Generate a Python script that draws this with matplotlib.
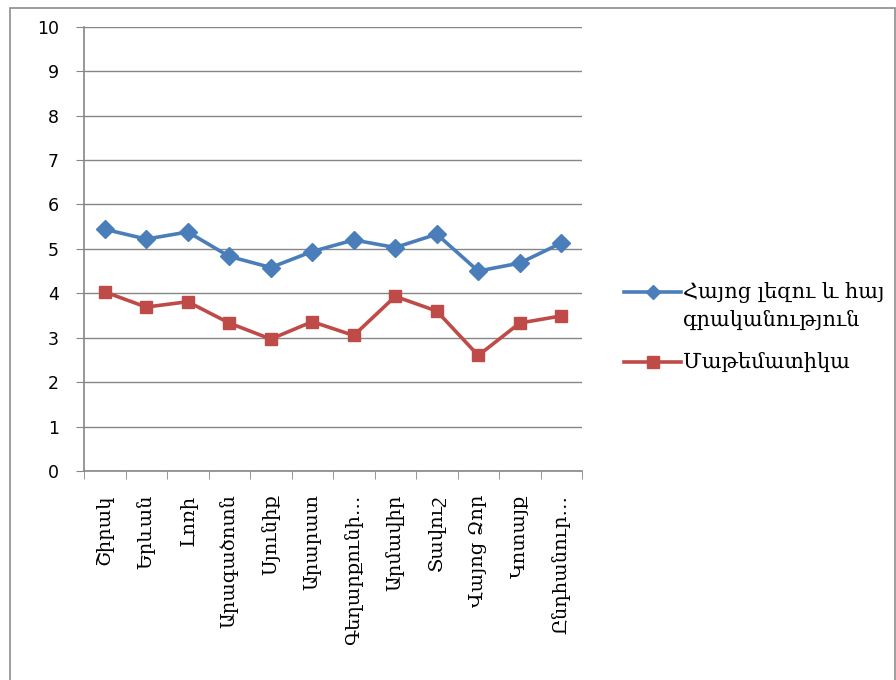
import matplotlib.pyplot as plt
import matplotlib.patches as patches
from matplotlib.lines import Line2D
import numpy as np

regions = ["Շիրակ", "Երևան", "Լոռի", "Արագածոտն", "Սյունիք", "Արարատ",
           "Գեղարքունի…", "Արմավիր", "Տավուշ", "Վայոց Ձոր", "Կոտայք", "Ընդհանուր…"]
armenian = [5.44, 5.22, 5.38, 4.83, 4.58, 4.94, 5.20, 5.03, 5.33, 4.50, 4.68, 5.13]
maths = [4.03, 3.69, 3.81, 3.33, 2.97, 3.36, 3.05, 3.93, 3.60, 2.60, 3.33, 3.49]
series_names = ["Հայոց լեզու և հայ\nգրականություն", "Մաթեմատիկա"]

arm_font = ['DejaVu Serif', 'DejaVu Sans']
blue = '#4a7ebb'
red = '#be4b48'
grid_col = '#868686'

W, H = 896, 680
fig = plt.figure(figsize=(W/100, H/100), dpi=100)
# outer chart border
fig.patches.append(patches.Rectangle((10/W, -0.01), 885/W, 1 - 8/H + 0.01,
                                     transform=fig.transFigure, fill=False,
                                     edgecolor='#8c8c8c', linewidth=1.2))
ax = fig.add_axes([84/W, 1 - 471/H, 498/W, 444.3/H])

x = np.arange(len(regions))
ax.plot(x, armenian, color=blue, linewidth=2.6, marker='D', markersize=9,
        markeredgecolor=blue)
ax.plot(x, maths, color=red, linewidth=2.6, marker='s', markersize=9,
        markeredgecolor=red)

ax.set_xlim(-0.5, len(regions) - 0.5)
ax.set_ylim(0, 10)
ax.set_yticks(range(0, 11))
ax.tick_params(axis='y', labelsize=12.5, length=6, color=grid_col, pad=12)
ax.set_xticks(x)
ax.set_xticklabels(regions, rotation=90, fontsize=14, family=arm_font)
ax.set_xticks(np.arange(-0.5, len(regions), 1), minor=True)
ax.tick_params(axis='x', which='major', length=0, pad=17)
ax.tick_params(axis='x', which='minor', length=6, color=grid_col)
ax.yaxis.grid(True, color=grid_col, linewidth=1)
ax.set_axisbelow(True)
for s in ['top', 'right']:
    ax.spines[s].set_visible(False)
for s in ['left', 'bottom']:
    ax.spines[s].set_color(grid_col)
    ax.spines[s].set_linewidth(1.2)

# legend drawn by hand so the blue key sits on the first text line (as in Excel)
def fx(px):
    return px / W

def fy(py):
    return 1 - py / H

for yy, col, mk, ms, label in [(292, blue, 'D', 7, series_names[0]),
                               (362, red, 's', 8, series_names[1])]:
    fig.add_artist(Line2D([fx(624), fx(681)], [fy(yy), fy(yy)], color=col,
                          linewidth=2.6, transform=fig.transFigure))
    fig.add_artist(Line2D([fx(653)], [fy(yy)], color=col, marker=mk, markersize=ms,
                          transform=fig.transFigure))
    fig.text(fx(683), fy(yy - 10), label, family=arm_font, fontsize=15,
             va='top', ha='left', linespacing=1.4)

fig.savefig('out.png', dpi=100)
